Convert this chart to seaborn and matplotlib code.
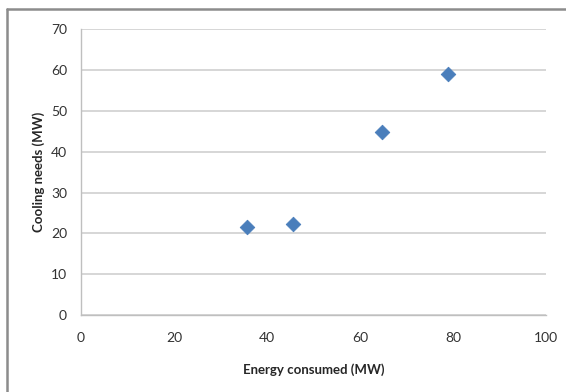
import matplotlib
matplotlib.use("Agg")
import matplotlib.pyplot as plt
import seaborn as sns
import pandas as pd
from matplotlib.lines import Line2D

energy = [35.8, 45.5, 64.8, 78.8]
cooling = [21.5, 22.2, 44.8, 59.0]
x_ticks = [0, 20, 40, 60, 80, 100]
y_ticks = [0, 10, 20, 30, 40, 50, 60, 70]

df = pd.DataFrame({"energy": energy, "cooling": cooling})

sns.set_style("white")
plt.rcParams['font.family'] = ['Lato', 'DejaVu Sans']

fig = plt.figure(figsize=(5.66, 3.92), dpi=100)
ax = fig.add_axes([0.143, 0.196, 0.822, 0.730])

sns.scatterplot(data=df, x="energy", y="cooling", marker="D", s=55,
                color="#4a7ebb", edgecolor="#4a7ebb", ax=ax, zorder=3)

ax.set_xlim(0, 100)
ax.set_ylim(0, 70)
ax.set_xticks(x_ticks)
ax.set_yticks(y_ticks)
ax.yaxis.grid(True, color="#d0d0d0", linewidth=1.2)
ax.xaxis.grid(False)
for s in ["top", "right"]:
    ax.spines[s].set_visible(False)
for s in ["left", "bottom"]:
    ax.spines[s].set_color("#bfbfbf")
    ax.spines[s].set_linewidth(1.0)
ax.tick_params(axis="both", which="both", length=4, color="#bfbfbf",
               labelsize=10, labelcolor="#333333", direction="out")
ax.tick_params(axis="x", pad=8)
ax.tick_params(axis="y", pad=6)
ax.set_xlabel("Energy consumed (MW)", fontsize=9.5, fontweight="bold", labelpad=14)
ax.set_ylabel("Cooling needs (MW)", fontsize=9.5, fontweight="bold", labelpad=4)

# outer frame: only top and left edges are visible in the original
fig.lines.append(Line2D([0.012, 1.0], [0.978, 0.978], transform=fig.transFigure,
                        color="#8c8c8c", linewidth=1.8))
fig.lines.append(Line2D([0.013, 0.013], [0.0, 0.978], transform=fig.transFigure,
                        color="#8c8c8c", linewidth=1.8))

fig.savefig("out.png", dpi=100)
